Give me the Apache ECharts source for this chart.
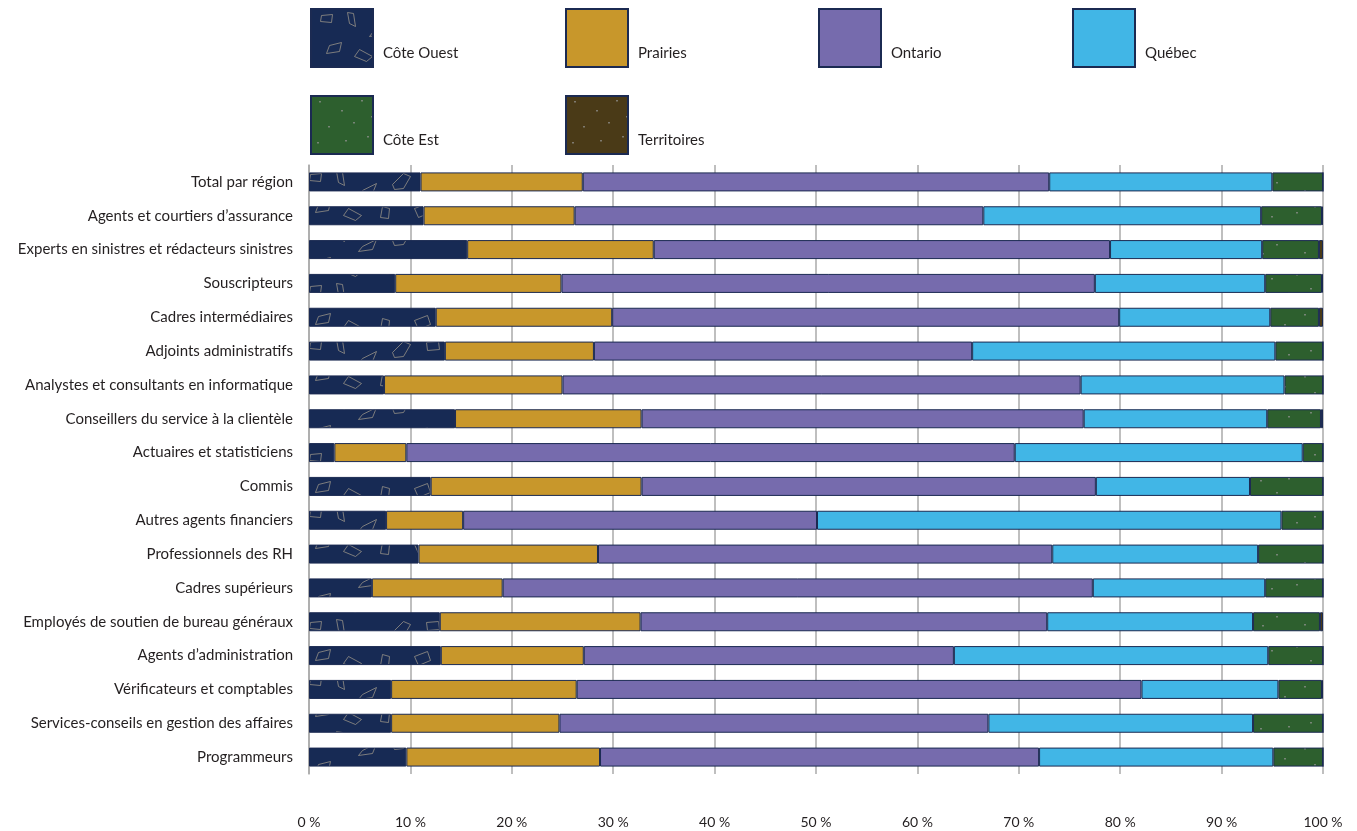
<!DOCTYPE html>
<html>
<head>
<meta charset="utf-8">
<script src="https://cdn.jsdelivr.net/npm/echarts@6/dist/echarts.min.js"></script>
<style>
  html, body { margin: 0; padding: 0; background: #ffffff; }
  #chart { width: 1357px; height: 831px; }
</style>
</head>
<body>
<div id="chart"></div>
<script>
// Répartition régionale (%) par profession
const categories = [
  'Total par région',
  'Agents et courtiers d’assurance',
  'Experts en sinistres et rédacteurs sinistres',
  'Souscripteurs',
  'Cadres intermédiaires',
  'Adjoints administratifs',
  'Analystes et consultants en informatique',
  'Conseillers du service à la clientèle',
  'Actuaires et statisticiens',
  'Commis',
  'Autres agents financiers',
  'Professionnels des RH',
  'Cadres supérieurs',
  'Employés de soutien de bureau généraux',
  'Agents d’administration',
  'Vérificateurs et comptables',
  'Services-conseils en gestion des affaires',
  'Programmeurs'
];

const seriesNames = ['Côte Ouest', 'Prairies', 'Ontario', 'Québec', 'Côte Est', 'Territoires'];

const coteOuest   = [11.0, 11.3, 15.6,  8.5, 12.5, 13.4,  7.4, 14.4,  2.5, 12.0,  7.6, 10.8,  6.2, 12.9, 13.0,  8.1,  8.1,  9.6];
const prairies    = [16.0, 14.9, 18.4, 16.4, 17.4, 14.7, 17.6, 18.4,  7.1, 20.8,  7.6, 17.7, 12.9, 19.8, 14.1, 18.3, 16.6, 19.1];
const ontario     = [46.0, 40.3, 45.0, 52.6, 50.0, 37.3, 51.1, 43.6, 60.0, 44.8, 34.9, 44.8, 58.2, 40.1, 36.5, 55.7, 42.3, 43.3];
const quebec      = [22.0, 27.4, 15.0, 16.8, 14.9, 29.9, 20.1, 18.1, 28.4, 15.2, 45.8, 20.3, 17.0, 20.3, 31.0, 13.5, 26.1, 23.1];
const coteEst     = [ 5.0,  6.0,  5.6,  5.6,  4.8,  4.7,  3.8,  5.3,  2.0,  7.2,  4.1,  6.4,  5.7,  6.6,  5.4,  4.3,  6.9,  4.9];
const territoires = [ 0.0,  0.1,  0.4,  0.1,  0.4,  0.0,  0.0,  0.2,  0.0,  0.0,  0.0,  0.0,  0.0,  0.3,  0.0,  0.1,  0.0,  0.0];

const xTicks = [0, 10, 20, 30, 40, 50, 60, 70, 80, 90, 100];

// --- Fill textures -------------------------------------------------------
function makeTile(w, h, bg, draw) {
  const c = document.createElement('canvas');
  c.width = w; c.height = h;
  const g = c.getContext('2d');
  g.fillStyle = bg;
  g.fillRect(0, 0, w, h);
  draw(g);
  return c;
}

// outlined shards scattered over the navy fill
const shards = [
  [[10, 6], [21, 5], [20, 13], [9, 12]],
  [[36, 3], [42, 4], [44, 17], [38, 14]],
  [[62, 22], [76, 15], [72, 25], [58, 27]],
  [[92, 16], [103, 5], [110, 8], [103, 20], [94, 21]],
  [[126, 6], [138, 5], [139, 13], [127, 14]],
  [[18, 36], [30, 33], [28, 42], [15, 44]],
  [[48, 40], [61, 47], [55, 52], [43, 47]],
  [[82, 38], [89, 40], [88, 50], [80, 49]],
  [[114, 40], [127, 35], [130, 44], [118, 49]]
];

const coteOuestTile = makeTile(150, 56, '#172a54', g => {
  g.strokeStyle = 'rgba(150,145,135,0.8)';
  g.lineWidth = 1;
  shards.forEach(p => {
    g.beginPath();
    g.moveTo(p[0][0] + 0.5, p[0][1] + 0.5);
    for (let i = 1; i < p.length; i++) g.lineTo(p[i][0] + 0.5, p[i][1] + 0.5);
    g.closePath();
    g.stroke();
  });
});

const dotSpots = [[8, 5], [30, 14], [50, 4], [17, 30], [42, 26], [60, 20], [6, 46], [34, 44], [56, 40], [22, 58]];
function dottedTile(bg) {
  return makeTile(66, 62, bg, g => {
    g.fillStyle = 'rgba(150,150,150,0.7)';
    dotSpots.forEach(d => g.fillRect(d[0], d[1], 2, 1.5));
  });
}

const fills = [
  { image: coteOuestTile, repeat: 'repeat' },
  '#c8972b',
  '#766bad',
  '#41b6e6',
  { image: dottedTile('#2d5f2e'), repeat: 'repeat' },
  { image: dottedTile('#4a3a17'), repeat: 'repeat' }
];

const values = [coteOuest, prairies, ontario, quebec, coteEst, territoires];

const legendPos = [
  [310, 8], [565, 8], [818, 8], [1072, 8],
  [310, 95], [565, 95]
];

const chart = echarts.init(document.getElementById('chart'), null, { renderer: 'canvas' });

chart.setOption({
  animation: false,
  backgroundColor: '#ffffff',
  textStyle: { fontFamily: 'Lato, "Open Sans", sans-serif' },
  legend: seriesNames.map((n, i) => ({
    data: [n],
    left: legendPos[i][0],
    top: legendPos[i][1],
    padding: 0,
    itemWidth: 62,
    itemHeight: 58,
    icon: 'rect',
    selectedMode: false,
    formatter: name => '\n' + name,
    textStyle: { fontSize: 15, color: '#231f20', lineHeight: 30, padding: [0, 0, 0, 5] }
  })),
  grid: { left: 309, right: 34, top: 165, bottom: 57, containLabel: false },
  xAxis: {
    type: 'value',
    min: 0,
    max: 100,
    interval: 10,
    axisLine: { show: false },
    axisTick: { show: false },
    splitLine: { show: true, lineStyle: { color: '#aaaaaa', width: 1.5 } },
    axisLabel: {
      margin: 41,
      fontSize: 14,
      color: '#231f20',
      formatter: v => (xTicks.indexOf(v) >= 0 ? v + ' %' : '')
    }
  },
  yAxis: {
    type: 'category',
    inverse: true,
    data: categories,
    axisLine: { show: true, lineStyle: { color: '#aaaaaa', width: 1.5 } },
    axisTick: { show: false },
    axisLabel: { margin: 16, fontSize: 15, color: '#231f20' }
  },
  series: seriesNames.map((n, i) => ({
    name: n,
    type: 'bar',
    stack: 'total',
    barWidth: 19,
    data: values[i],
    itemStyle: { color: fills[i], borderColor: '#1b2a52', borderWidth: 1 },
    emphasis: { disabled: true }
  }))
});
</script>
</body>
</html>
